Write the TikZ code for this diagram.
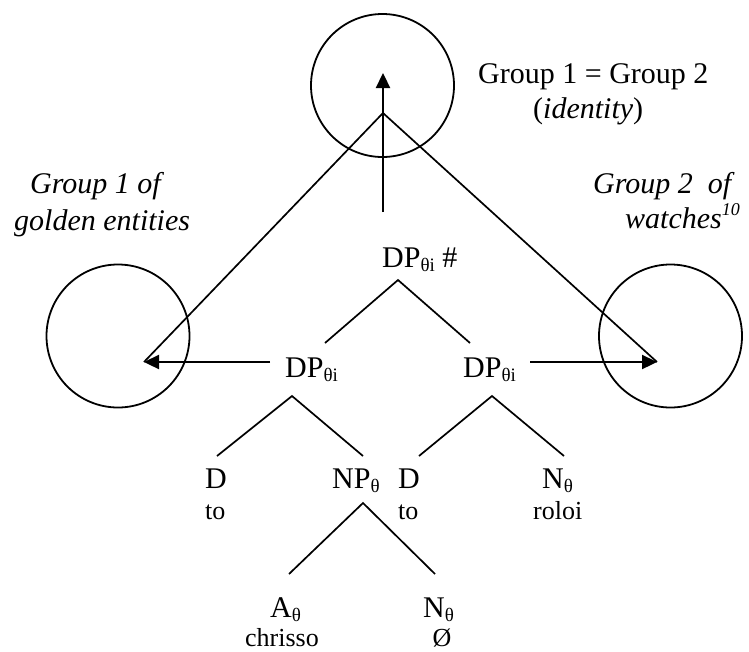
\documentclass[tikz,border=0pt]{standalone}
\usepackage{fontspec}
\setmainfont{Liberation Serif}
\usetikzlibrary{arrows.meta}
\newcommand{\thsub}[1]{\raisebox{-4pt}{\fontsize{19}{19}\selectfont #1}}
\newcommand{\supten}[1]{\raisebox{13pt}{\fontsize{18}{18}\selectfont #1}}
\begin{document}
\begin{tikzpicture}[x=1pt,y=-1pt,
  lab/.style={inner sep=0pt, anchor=base west, font=\fontsize{30}{34}\selectfont},
  ilab/.style={lab, font=\fontsize{30}{34}\selectfont\itshape},
  word/.style={inner sep=0pt, anchor=base west, font=\fontsize{26}{30}\selectfont},
  ring/.style={circle, draw, line width=1.8pt, minimum size=143pt, inner sep=0pt},
  branch/.style={line width=1.7pt},
  arr/.style={line width=2.3pt, -{Triangle[length=15pt,width=14pt]}},
  diag/.style={line width=1.7pt}]
\useasboundingbox (0,0) rectangle (749,651);

% circles
\node[ring] (topc) at (382.5,85.5) {};
\node[ring] (leftc) at (118,336) {};
\node[ring] (rightc) at (670.5,336) {};

% key points
\coordinate (apex) at (383,113);
\coordinate (tiptop) at (383,73);
\coordinate (tipl) at (144,362);
\coordinate (tipr) at (657,362);
\coordinate (vbot) at (383,212);
\coordinate (lstart) at (270,362);
\coordinate (rstart) at (530,362);

% labels
\node[lab] (ident1) at (478,83) {Group 1 = Group 2};
\node[lab] (ident2) at (533,118) {(\textit{identity})};
\node[ilab] (g1a) at (30,193) {Group 1 of};
\node[ilab] (g1b) at (14,230) {golden entities};
\node[ilab] (g2a) at (593,193) {Group 2\ \ of};
\node[ilab] (g2b) at (625,228) {watches\supten{10}};

% tree labels
\node[lab] (dph) at (382,267) {DP\thsub{θi} \#};
\node[lab] (dpl) at (285,377) {DP\thsub{θi}};
\node[lab] (dpr) at (463,377) {DP\thsub{θi}};
\node[lab] (dl) at (205,488) {D};
\node[word] (dlw) at (205,519) {to};
\node[lab] (np) at (332,488) {NP\thsub{θ}};
\node[lab] (dr) at (398,488) {D};
\node[word] (drw) at (398,519) {to};
\node[lab] (nr) at (542,488) {N\thsub{θ}};
\node[word] (nrw) at (533,519) {roloi};
\node[lab] (ab) at (270,617) {A\thsub{θ}};
\node[word] (abw) at (245,646) {chrisso};
\node[lab] (nb) at (423,617) {N\thsub{θ}};
\node[word, anchor=base] (nbw) at (442,646) {Ø};

% tree branch points
\coordinate (h0) at (398,280);
\coordinate (h1) at (325,343);
\coordinate (h2) at (470,343);
\coordinate (l0) at (292,396);
\coordinate (l1) at (217,456);
\coordinate (l2) at (363,456);
\coordinate (r0) at (492,396);
\coordinate (r1) at (419,456);
\coordinate (r2) at (564,456);
\coordinate (n0) at (363,503);
\coordinate (n1) at (289,574);
\coordinate (n2) at (435,574);

\draw[branch] (h1) -- (h0) -- (h2);
\draw[branch] (l1) -- (l0) -- (l2);
\draw[branch] (r1) -- (r0) -- (r2);
\draw[branch] (n1) -- (n0) -- (n2);

% diagonals and arrows
\draw[diag] (tipl) -- (apex) -- (tipr);
\draw[arr] (vbot) -- (tiptop);
\draw[arr] (lstart) -- (tipl);
\draw[arr] (rstart) -- (tipr);
\end{tikzpicture}
\end{document}
